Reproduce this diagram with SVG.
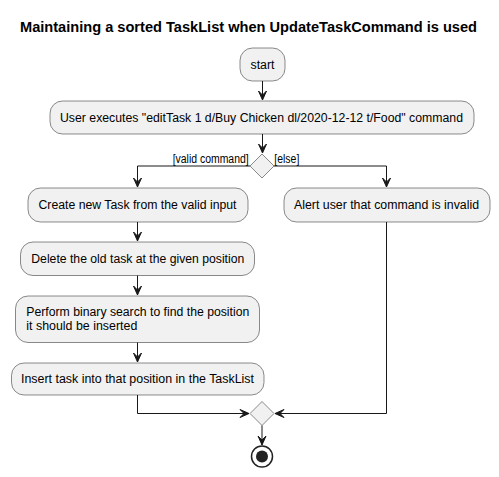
<svg xmlns="http://www.w3.org/2000/svg" width="499" height="477" viewBox="0 0 499 477">
<style>
.bg{fill:#FFFFFF}
.act{fill:#F1F1F1;stroke:#181818;stroke-width:0.5}
.t{font-family:"Liberation Sans",Arial,sans-serif;font-size:12px;fill:#000000}
.title{font-family:"Liberation Sans",Arial,sans-serif;font-size:14px;font-weight:bold;fill:#000000}
.ln{fill:none;stroke:#181818;stroke-width:1}
.ah{fill:#181818;stroke:#181818;stroke-width:1}
</style>
<rect class="bg" x="0" y="0" width="499" height="477"/>
<text class="title" x="20" y="32" textLength="457" lengthAdjust="spacingAndGlyphs">Maintaining a sorted TaskList when UpdateTaskCommand is used</text>
<g id="start">
<rect class="act" x="240" y="48" width="45" height="33" rx="12.5" ry="12.5"/>
<text class="t" x="250.5" y="69" textLength="24" lengthAdjust="spacingAndGlyphs">start</text>
</g>
<g id="user-executes">
<rect class="act" x="50" y="101" width="424" height="33" rx="12.5" ry="12.5"/>
<text class="t" x="60" y="122" textLength="403" lengthAdjust="spacingAndGlyphs">User executes "editTask 1 d/Buy Chicken dl/2020-12-12 t/Food" command</text>
</g>
<g id="decision">
<polygon class="act" points="262,154 274,166 262,178 250,166"/>
</g>
<g id="create-task">
<rect class="act" x="28" y="188" width="220" height="34" rx="12.5" ry="12.5"/>
<text class="t" x="38.5" y="209" textLength="198" lengthAdjust="spacingAndGlyphs">Create new Task from the valid input</text>
</g>
<g id="alert">
<rect class="act" x="284" y="188" width="206" height="34" rx="12.5" ry="12.5"/>
<text class="t" x="294" y="209" textLength="185" lengthAdjust="spacingAndGlyphs">Alert user that command is invalid</text>
</g>
<g id="delete-task">
<rect class="act" x="20.5" y="242" width="234" height="33.5" rx="12.5" ry="12.5"/>
<text class="t" x="31.3" y="263" textLength="213" lengthAdjust="spacingAndGlyphs">Delete the old task at the given position</text>
</g>
<g id="binary-search">
<rect class="act" x="15.5" y="296" width="244" height="46.5" rx="12.5" ry="12.5"/>
<text class="t" x="26.3" y="316" textLength="223" lengthAdjust="spacingAndGlyphs">Perform binary search to find the position</text>
<text class="t" x="26.3" y="330" textLength="111" lengthAdjust="spacingAndGlyphs">it should be inserted</text>
</g>
<g id="insert-task">
<rect class="act" x="11.5" y="363" width="252.5" height="32" rx="12.5" ry="12.5"/>
<text class="t" x="21" y="383" textLength="233" lengthAdjust="spacingAndGlyphs">Insert task into that position in the TaskList</text>
</g>
<g id="merge">
<polygon class="act" points="262,401.5 274,413.5 262,425.5 250,413.5"/>
</g>
<g id="end">
<circle cx="262" cy="456.5" r="10.5" fill="none" stroke="#222222" stroke-width="1.5"/>
<circle cx="262" cy="456.5" r="6" fill="#222222"/>
</g>
<g id="connectors">
<path class="ln" d="M262.5,81 L262.5,100"/>
<polygon class="ah" points="258.5,91 262.5,100 266.5,91 262.5,95"/>
<path class="ln" d="M262.5,134 L262.5,153"/>
<polygon class="ah" points="258.5,144 262.5,153 266.5,144 262.5,148"/>
<path class="ln" d="M250,166 L137.5,166 L137.5,187"/>
<polygon class="ah" points="133.5,178 137.5,187 141.5,178 137.5,182"/>
<text class="t" x="172.7" y="163" textLength="76" lengthAdjust="spacingAndGlyphs">[valid command]</text>
<path class="ln" d="M274,166 L386.5,166 L386.5,187"/>
<polygon class="ah" points="382.5,178 386.5,187 390.5,178 386.5,182"/>
<text class="t" x="274.3" y="163" textLength="25" lengthAdjust="spacingAndGlyphs">[else]</text>
<path class="ln" d="M137.5,222 L137.5,241"/>
<polygon class="ah" points="133.5,232 137.5,241 141.5,232 137.5,236"/>
<path class="ln" d="M137.5,275.5 L137.5,295"/>
<polygon class="ah" points="133.5,286 137.5,295 141.5,286 137.5,290"/>
<path class="ln" d="M137.5,342.5 L137.5,362"/>
<polygon class="ah" points="133.5,353 137.5,362 141.5,353 137.5,357"/>
<path class="ln" d="M137.5,395 L137.5,413.5 L249,413.5"/>
<polygon class="ah" points="240,409.5 249,413.5 240,417.5 244,413.5"/>
<path class="ln" d="M386.5,222 L386.5,413.5 L275,413.5"/>
<polygon class="ah" points="284,409.5 275,413.5 284,417.5 280,413.5"/>
<path class="ln" d="M262,425.5 L262,445"/>
<polygon class="ah" points="258,436 262,445 266,436 262,440"/>
</g>
</svg>
